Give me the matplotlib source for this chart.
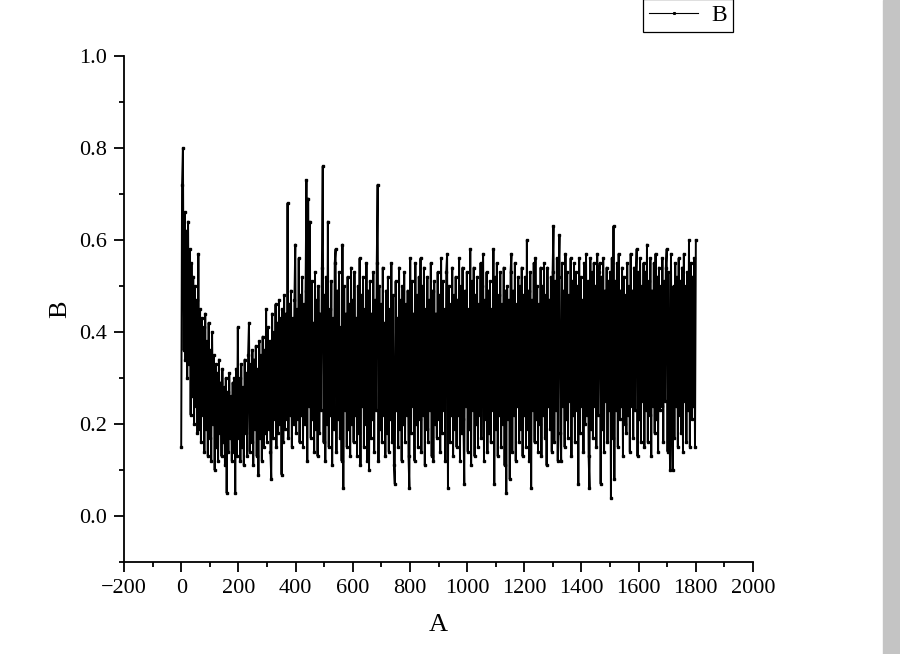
"""
Noisy series B against A, Origin-style line + symbol plot.
"""
import numpy as np
import matplotlib
matplotlib.use("Agg")
import matplotlib.pyplot as plt
from matplotlib.patches import Rectangle

# A runs 0..1800 in steps of 3, B (one row = 60 units of A)
A = np.arange(0, 1801, 3)
B = [
    0.15, 0.72, 0.80, 0.36, 0.66, 0.34, 0.62, 0.30, 0.64, 0.33, 0.58, 0.22, 0.55, 0.26, 0.52, 0.20, 0.50, 0.24, 0.47, 0.18,
    0.57, 0.19, 0.45, 0.16, 0.43, 0.22, 0.41, 0.14, 0.44, 0.19, 0.38, 0.13, 0.42, 0.17, 0.36, 0.12, 0.40, 0.20, 0.35, 0.10,
    0.33, 0.15, 0.31, 0.12, 0.34, 0.18, 0.29, 0.13, 0.32, 0.16, 0.28, 0.11, 0.30, 0.05, 0.27, 0.14, 0.31, 0.17, 0.26, 0.12,
    0.29, 0.14, 0.30, 0.05, 0.32, 0.13, 0.41, 0.17, 0.30, 0.12, 0.33, 0.15, 0.28, 0.11, 0.34, 0.18, 0.31, 0.13, 0.35, 0.42,
    0.14, 0.33, 0.16, 0.36, 0.11, 0.34, 0.19, 0.37, 0.13, 0.32, 0.09, 0.38, 0.17, 0.35, 0.12, 0.39, 0.15, 0.36, 0.18, 0.45,
    0.16, 0.41, 0.19, 0.38, 0.14, 0.08, 0.44, 0.17, 0.40, 0.21, 0.46, 0.15, 0.42, 0.18, 0.47, 0.20, 0.43, 0.09, 0.45, 0.16,
    0.48, 0.19, 0.44, 0.21, 0.68, 0.17, 0.46, 0.22, 0.49, 0.15, 0.43, 0.20, 0.47, 0.59, 0.18, 0.45, 0.21, 0.56, 0.16, 0.48,
    0.22, 0.52, 0.15, 0.46, 0.20, 0.49, 0.73, 0.12, 0.69, 0.24, 0.64, 0.17, 0.51, 0.21, 0.42, 0.14, 0.53, 0.19, 0.47, 0.13,
    0.50, 0.18, 0.44, 0.23, 0.54, 0.76, 0.16, 0.48, 0.12, 0.52, 0.20, 0.64, 0.15, 0.45, 0.22, 0.51, 0.11, 0.43, 0.19, 0.55,
    0.58, 0.14, 0.49, 0.21, 0.53, 0.17, 0.41, 0.12, 0.59, 0.06, 0.50, 0.23, 0.44, 0.15, 0.52, 0.19, 0.46, 0.13, 0.54, 0.20,
    0.47, 0.16, 0.53, 0.22, 0.43, 0.13, 0.50, 0.18, 0.56, 0.11, 0.48, 0.24, 0.52, 0.15, 0.45, 0.20, 0.55, 0.12, 0.49, 0.10,
    0.51, 0.17, 0.44, 0.21, 0.53, 0.14, 0.47, 0.23, 0.55, 0.72, 0.12, 0.50, 0.19, 0.46, 0.16, 0.54, 0.22, 0.42, 0.13, 0.49,
    0.18, 0.52, 0.14, 0.45, 0.21, 0.55, 0.16, 0.48, 0.11, 0.07, 0.51, 0.23, 0.43, 0.15, 0.54, 0.19, 0.47, 0.12, 0.50, 0.20,
    0.53, 0.16, 0.46, 0.22, 0.49, 0.13, 0.06, 0.56, 0.18, 0.51, 0.24, 0.44, 0.12, 0.55, 0.20, 0.48, 0.15, 0.52, 0.21, 0.56,
    0.14, 0.50, 0.22, 0.54, 0.11, 0.45, 0.19, 0.52, 0.16, 0.47, 0.23, 0.55, 0.13, 0.49, 0.12, 0.51, 0.20, 0.44, 0.17, 0.53,
    0.21, 0.48, 0.14, 0.56, 0.18, 0.51, 0.23, 0.45, 0.12, 0.53, 0.57, 0.06, 0.50, 0.16, 0.46, 0.22, 0.54, 0.13, 0.48, 0.19,
    0.52, 0.15, 0.47, 0.22, 0.56, 0.12, 0.50, 0.18, 0.54, 0.21, 0.07, 0.49, 0.24, 0.53, 0.14, 0.45, 0.19, 0.58, 0.11, 0.51,
    0.23, 0.54, 0.13, 0.48, 0.20, 0.52, 0.15, 0.46, 0.22, 0.55, 0.17, 0.50, 0.57, 0.12, 0.47, 0.21, 0.53, 0.14, 0.49, 0.18,
    0.51, 0.16, 0.45, 0.23, 0.58, 0.07, 0.52, 0.19, 0.55, 0.13, 0.48, 0.22, 0.53, 0.15, 0.46, 0.20, 0.54, 0.11, 0.49, 0.05,
    0.50, 0.21, 0.47, 0.08, 0.53, 0.57, 0.14, 0.49, 0.22, 0.55, 0.12, 0.46, 0.24, 0.52, 0.16, 0.50, 0.19, 0.54, 0.13, 0.48,
    0.22, 0.52, 0.15, 0.60, 0.19, 0.49, 0.12, 0.53, 0.06, 0.47, 0.23, 0.55, 0.16, 0.56, 0.21, 0.50, 0.14, 0.46, 0.20, 0.54,
    0.13, 0.50, 0.22, 0.55, 0.17, 0.48, 0.11, 0.54, 0.24, 0.47, 0.19, 0.52, 0.14, 0.53, 0.63, 0.16, 0.51, 0.23, 0.56, 0.12,
    0.52, 0.61, 0.18, 0.12, 0.55, 0.24, 0.49, 0.15, 0.57, 0.21, 0.53, 0.17, 0.48, 0.25, 0.56, 0.13, 0.51, 0.22, 0.55, 0.16,
    0.53, 0.23, 0.50, 0.07, 0.56, 0.18, 0.52, 0.24, 0.47, 0.14, 0.55, 0.20, 0.57, 0.22, 0.51, 0.13, 0.06, 0.56, 0.19, 0.53,
    0.17, 0.55, 0.24, 0.50, 0.15, 0.57, 0.22, 0.53, 0.55, 0.07, 0.52, 0.19, 0.56, 0.14, 0.49, 0.25, 0.54, 0.16, 0.51, 0.23,
    0.53, 0.04, 0.56, 0.17, 0.63, 0.08, 0.51, 0.23, 0.55, 0.15, 0.57, 0.21, 0.49, 0.24, 0.54, 0.13, 0.52, 0.20, 0.48, 0.18,
    0.55, 0.22, 0.50, 0.14, 0.57, 0.24, 0.49, 0.17, 0.54, 0.23, 0.52, 0.58, 0.13, 0.53, 0.21, 0.56, 0.16, 0.50, 0.25, 0.55,
    0.15, 0.53, 0.23, 0.59, 0.16, 0.51, 0.22, 0.56, 0.13, 0.49, 0.24, 0.55, 0.18, 0.57, 0.21, 0.52, 0.14, 0.54, 0.23, 0.50,
    0.24, 0.56, 0.16, 0.51, 0.25, 0.54, 0.58, 0.14, 0.53, 0.21, 0.10, 0.57, 0.23, 0.10, 0.50, 0.17, 0.55, 0.24, 0.52, 0.15,
    0.56, 0.22, 0.51, 0.18, 0.54, 0.14, 0.57, 0.25, 0.50, 0.16, 0.53, 0.23, 0.60, 0.15, 0.55, 0.21, 0.52, 0.24, 0.56, 0.15,
    0.60,
]

X_TICKS = list(range(-200, 2001, 200))
Y_TICKS = [0.0, 0.2, 0.4, 0.6, 0.8, 1.0]
X_LABEL = "A"
Y_LABEL = "B"

plt.rcParams["font.family"] = ["Liberation Serif", "DejaVu Serif"]

fig = plt.figure(figsize=(9, 6.54), dpi=100)
ax = fig.add_axes([0.1378, 0.1407, 0.6989, 0.7737])

ax.plot(A, B, color="black", lw=1.4, marker="s", ms=1.5, mec="black", mfc="black",
        label=Y_LABEL)

ax.set_xlim(-200, 2000)
ax.set_ylim(-0.1, 1.0)
ax.set_xticks(X_TICKS)
ax.set_xticks(range(-100, 2000, 200), minor=True)
ax.set_yticks(Y_TICKS)
ax.set_yticks([-0.1, 0.1, 0.3, 0.5, 0.7, 0.9], minor=True)
ax.set_yticklabels([f"{v:.1f}" for v in Y_TICKS])

for side in ("top", "right"):
    ax.spines[side].set_visible(False)
for side in ("left", "bottom"):
    ax.spines[side].set_linewidth(1.3)
ax.tick_params(which="major", direction="out", length=7, width=1.3, labelsize=16, pad=5)
ax.tick_params(which="minor", direction="out", length=3.5, width=1.3)

ax.set_xlabel(X_LABEL, fontsize=19, labelpad=12)
ax.set_ylabel(Y_LABEL, fontsize=19, labelpad=6)

# legend box sits at the top edge, its upper part cut off
leg = ax.legend(loc="lower left", bbox_to_anchor=(643 / 900, 1 - 32 / 654),
                bbox_transform=fig.transFigure, fontsize=17, frameon=True, fancybox=False,
                edgecolor="black", framealpha=1, handlelength=2.1, borderpad=0.25,
                borderaxespad=0, handletextpad=0.55, markerscale=0.8)
leg.get_frame().set_linewidth(0.9)
leg.get_lines()[0].set_linewidth(0.8)

# grey strip on the right edge
fig.patches.append(Rectangle((883 / 900, 0), 17 / 900, 1, transform=fig.transFigure,
                             color="#c4c4c4", zorder=0))

fig.savefig("out.png", dpi=100)
